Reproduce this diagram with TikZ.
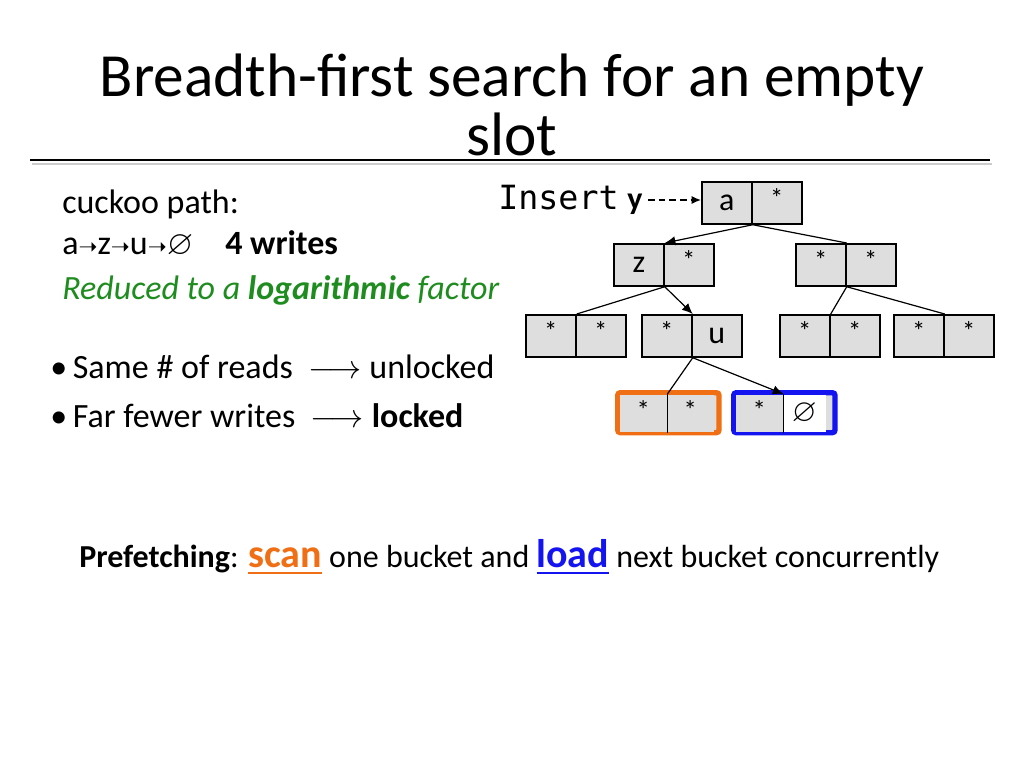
\documentclass[tikz,border=0pt]{standalone}
\usepackage{amssymb}
\usepackage{fontspec}
\setmainfont{Carlito}
\setmonofont{DejaVu Sans Mono}
\newfontfamily\symf{DejaVu Sans}
\usetikzlibrary{arrows.meta}
\definecolor{cellgray}{RGB}{222,222,222}
\definecolor{pathgreen}{RGB}{30,140,30}
\definecolor{orng}{RGB}{240,110,20}
\definecolor{blu}{RGB}{20,20,240}
\begin{document}
\begin{tikzpicture}[x=0.75pt,y=-0.75pt,
  cell/.style={draw=black,line width=1.3pt,fill=cellgray,minimum width=37.5pt,minimum height=31.5pt,inner sep=0pt,font=\fontsize{24}{24}\selectfont,anchor=north west},
  st/.style={font=\fontsize{20}{20}\selectfont},
  hi/.style={draw,line width=4pt,rounded corners=2pt,fill=cellgray,minimum width=76pt,minimum height=30pt,inner sep=0pt,anchor=north west},
  edge/.style={line width=0.9pt},
  arr/.style={line width=0.9pt,-{Latex[length=8pt,width=7pt]}},
  body/.style={font=\fontsize{25.5}{28}\selectfont,anchor=base west,inner sep=0pt}]
\useasboundingbox (0,0) rectangle (1024,768);
% title
\node[font=\fontsize{46}{44}\selectfont,align=center] (title) at (512,105) {Breadth-first search for an empty\\slot};
\fill[gray!40] (32,163) rectangle (992,165);
\draw[line width=2.2pt] (30,160) -- (990,160);
% left text
\node[body] (t1) at (62,213) {cuckoo path:};
\node[body] (t2) at (62,254) {a{\symf\fontsize{17}{17}\selectfont➝}z{\symf\fontsize{17}{17}\selectfont➝}u{\symf\fontsize{17}{17}\selectfont➝}$\varnothing$\hspace{24pt}\textbf{4 writes}};
\node[body,text=pathgreen] (t3) at (62,299) {\itshape Reduced to a \textbf{logarithmic} factor};
\node[body] (b1) at (50,378) {\textbullet\,Same \# of reads \ $\longrightarrow$ unlocked};
\node[body] (b2) at (50,427) {\textbullet\,Far fewer writes \ $\longrightarrow$ \textbf{locked}};
% bottom line
\node[body,font=\fontsize{24}{28}\selectfont] (pf) at (79,567) {\textbf{Prefetching}: {\color{orng}\fontsize{30}{30}\selectfont\textbf{\underline{scan}}} one bucket and {\color{blu}\fontsize{30}{30}\selectfont\textbf{\underline{load}}} next bucket concurrently};
% insert
\node[anchor=base west,inner sep=0pt,font=\ttfamily\fontsize{25}{25}\selectfont] (ins) at (498,209) {Insert};
\node[anchor=base west,inner sep=0pt,font=\fontsize{24}{24}\selectfont\bfseries] (y) at (627,209) {y};
% highlight frames
\node[hi,draw=orng] (o) at (615,390) {};
\node[hi,draw=blu] (bl) at (731,390) {};
% cells
\node[cell] (a1) at (701,181) {a};
\node[cell,st] (a2) at (751,181) {\raisebox{8pt}{*}};
\node[cell] (z1) at (613,243) {z};
\node[cell,st] (z2) at (663,243) {\raisebox{8pt}{*}};
\node[cell,st] (r1) at (795,243) {\raisebox{8pt}{*}};
\node[cell,st] (r2) at (845,243) {\raisebox{8pt}{*}};
\node[cell,st] (c1) at (525,314) {\raisebox{8pt}{*}};
\node[cell,st] (c2) at (575,314) {\raisebox{8pt}{*}};
\node[cell,st] (d1) at (641,314) {\raisebox{8pt}{*}};
\node[cell] (d2) at (691,314) {u};
\node[cell,st] (e1) at (779,314) {\raisebox{8pt}{*}};
\node[cell,st] (e2) at (829,314) {\raisebox{8pt}{*}};
\node[cell,st] (f1) at (893,314) {\raisebox{8pt}{*}};
\node[cell,st] (f2) at (943,314) {\raisebox{8pt}{*}};
\node[cell,st,draw=none,minimum width=35pt,minimum height=28pt] (g1) at (619,394) {\raisebox{6pt}{*}};
\node[cell,st,draw=none,minimum width=35pt,minimum height=28pt] (g2) at (666,394) {\raisebox{6pt}{*}};
\node[cell,st,draw=none,minimum width=35pt,minimum height=28pt] (h1) at (735,394) {\raisebox{6pt}{*}};
\node[cell,draw=none,fill=white,minimum width=32pt,minimum height=28pt] (h2) at (782,394) {$\varnothing$};
\draw[line width=1pt] (g1.north east) -- (g1.south east);
\draw[line width=1pt] (h1.north east) -- (h1.south east);
% connectors
\coordinate (ys) at (648,200);
\draw[line width=1pt,dash pattern=on 5pt off 3pt,-{Latex[length=7pt,width=6pt]}] (ys) -- (a1.west |- ys);
\draw[arr] (a1.south east) -- (z1.north east);
\draw[edge] (a1.south east) -- (r1.north east);
\draw[edge] (z1.south east) -- (c1.north east);
\draw[arr] (z1.south east) -- (d1.north east);
\draw[edge] (r1.south east) -- (e1.north east);
\draw[edge] (r1.south east) -- (f1.north east);
\draw[edge] (d1.south east) -- (g1.north east);
\draw[arr] (d1.south east) -- (h1.north east);
\end{tikzpicture}
\end{document}
